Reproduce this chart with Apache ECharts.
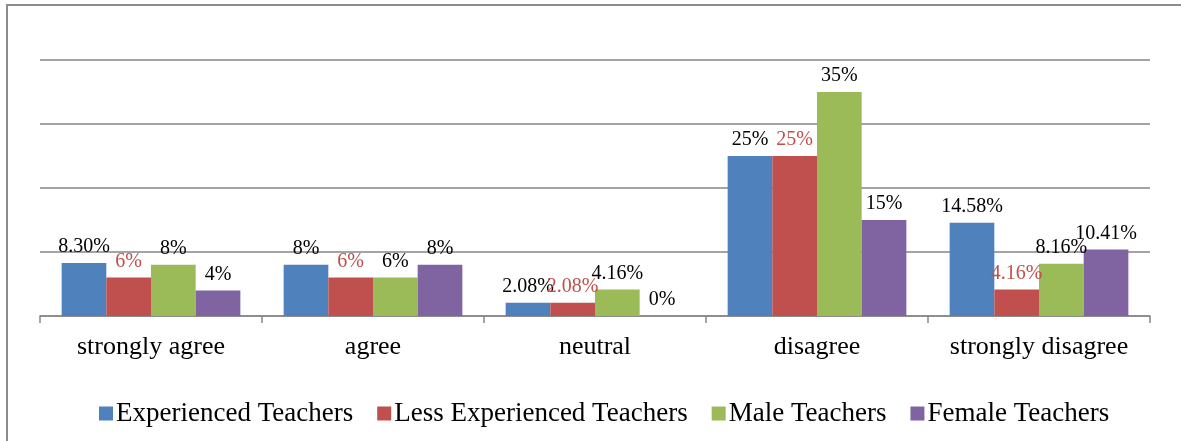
<!DOCTYPE html>
<html>
<head>
<meta charset="utf-8">
<script src="https://cdn.jsdelivr.net/npm/echarts@6/dist/echarts.min.js"></script>
<style>
  html, body { margin: 0; padding: 0; background: #fff; overflow: hidden; }
  #frame { position: absolute; left: 6px; top: 4px; width: 1190px; height: 450px; border: 2px solid #8c8c8c; box-sizing: border-box; }
  #charts { width: 1181px; height: 441px; position: absolute; left: 0; top: 0; }
</style>
</head>
<body>
<div id="frame"></div>
<div id="charts"></div>
<script>
var categories = ['strongly agree', 'agree', 'neutral', 'disagree', 'strongly disagree'];
var experienced = [8.30, 8, 2.08, 25, 14.58];
var lessExperienced = [6, 6, 2.08, 25, 4.16];
var male = [8, 6, 4.16, 35, 8.16];
var female = [4, 8, 0, 15, 10.41];
var labelText = {
  'Experienced Teachers': ['8.30%', '8%', '2.08%', '25%', '14.58%'],
  'Less Experienced Teachers': ['6%', '6%', '2.08%', '25%', '4.16%'],
  'Male Teachers': ['8%', '6%', '4.16%', '35%', '8.16%'],
  'Female Teachers': ['4%', '8%', '0%', '15%', '10.41%']
};

var serif = '"Liberation Serif", "DejaVu Serif", serif';

function makeSeries(name, values, color, labelColor) {
  return {
    name: name,
    type: 'bar',
    data: values,
    barGap: '0%',
    barCategoryGap: '19.5%',
    itemStyle: { color: color },
    label: {
      show: true,
      position: 'top',
      distance: 6,
      color: labelColor,
      fontFamily: serif,
      fontSize: 20,
      formatter: function (p) { return labelText[name][p.dataIndex]; }
    }
  };
}

var myChart = echarts.init(document.getElementById('charts'));
myChart.setOption({
  animation: false,
  textStyle: { fontFamily: serif },
  grid: { left: 40, right: 31, top: 60, bottom: 125 },
  legend: {
    top: 395,
    left: 94,
    itemWidth: 14,
    itemHeight: 14,
    itemGap: 24,
    icon: 'rect',
    textStyle: { fontFamily: serif, fontSize: 27, color: '#000', padding: [0, 0, 0, -2] }
  },
  xAxis: {
    type: 'category',
    data: categories,
    axisLine: { lineStyle: { color: '#868686', width: 1.5 } },
    axisTick: { show: true, interval: 0, length: 7, lineStyle: { color: '#868686', width: 1.5 } },
    axisLabel: { interval: 0, fontFamily: serif, fontSize: 26, color: '#000', margin: 18 }
  },
  yAxis: {
    type: 'value',
    min: 0,
    max: 40,
    interval: 10,
    axisLabel: { show: false },
    axisLine: { show: false },
    axisTick: { show: false },
    splitLine: { lineStyle: { color: '#868686', width: 1.5 } }
  },
  series: [
    makeSeries('Experienced Teachers', experienced, '#4F81BD', '#000'),
    makeSeries('Less Experienced Teachers', lessExperienced, '#C0504D', '#C0504D'),
    makeSeries('Male Teachers', male, '#9BBB59', '#000'),
    makeSeries('Female Teachers', female, '#8064A2', '#000')
  ]
});
</script>
</body>
</html>
